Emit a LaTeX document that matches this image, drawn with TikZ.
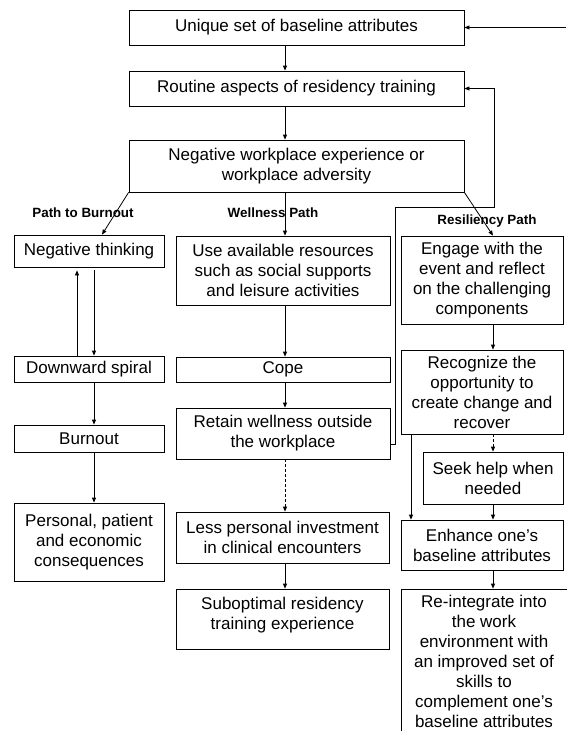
\documentclass[tikz,border=0pt]{standalone}
\usepackage{fontspec}
\setmainfont{Liberation Sans}
\usetikzlibrary{arrows.meta,calc}
\begin{document}
\begin{tikzpicture}[x=1pt,y=-1pt,
  box/.style={draw, line width=0.8pt, align=center, inner sep=0pt, font=\fontsize{17}{20}\selectfont},
  arr/.style={line width=0.8pt, -{Triangle[length=5pt,width=4pt]}},
  dsh/.style={arr, dash pattern=on 3pt off 2pt},
  lbl/.style={font=\bfseries\fontsize{13.4}{15}\selectfont, inner sep=0pt}]
\useasboundingbox (0,0) rectangle (566,731);
% top column
\node[box, minimum width=335pt, minimum height=35pt] (b1) at (296.5,27.5) {Unique set of baseline attributes};
\node[box, minimum width=335pt, minimum height=35pt] (b2) at (296.5,88.5) {Routine aspects of residency training};
\node[box, minimum width=335pt, minimum height=52pt] (b3) at (296.5,166) {Negative workplace experience or\\workplace adversity};
% labels
\node[lbl] (lb1) at (83,213) {Path to Burnout};
\node[lbl] (lb2) at (273,213) {Wellness Path};
\node[lbl] (lb3) at (487,221) {Resiliency Path};
% left column
\node[box, minimum width=150pt, minimum height=32pt] (nt) at (89,251) {Negative thinking};
\node[box, minimum width=150pt, minimum height=26pt] (ds) at (89,369) {Downward spiral};
\node[box, minimum width=150pt, minimum height=27pt] (bo) at (89,438.5) {Burnout};
\node[box, minimum width=150pt, minimum height=78pt] (pc) at (89,542) {Personal, patient\\and economic\\consequences};
% middle column
\node[box, minimum width=214pt, minimum height=69pt] (ua) at (283,270.5) {Use available resources\\such as social supports\\and leisure activities};
\node[box, minimum width=214pt, minimum height=25pt] (co) at (283,369.5) {Cope};
\node[box, minimum width=214pt, minimum height=51pt] (rw) at (283,433.5) {Retain wellness outside\\the workplace};
\node[box, minimum width=213pt, minimum height=51pt] (lp) at (282.5,537.5) {Less personal investment\\in clinical encounters};
\node[box, minimum width=213pt, minimum height=60pt] (so) at (282.5,619) {Suboptimal residency\\training experience\\[-8pt]\mbox{}};
% right column
\node[box, minimum width=162pt, minimum height=88pt] (en) at (482,280) {Engage with the\\event and reflect\\on the challenging\\components};
\node[box, minimum width=162pt, minimum height=84pt] (rc) at (482,392) {Recognize the\\opportunity to\\create change and\\recover};
\node[box, minimum width=140pt, minimum height=52pt] (sh) at (493,478) {Seek help when\\needed};
\node[box, minimum width=162pt, minimum height=50pt] (eh) at (482,545) {Enhance one’s\\baseline attributes};
\node[box, minimum width=166pt, minimum height=144pt] (ri) at (484,661) {Re-integrate into\\the work\\environment with\\an improved set of\\skills to\\complement one’s\\baseline attributes};
% column coordinates
\coordinate (cL) at (94,0);
\coordinate (cLu) at (77,0);
\coordinate (cM) at (285,0);
\coordinate (cR) at (493,0);
\coordinate (cRl) at (411,0);
% top arrows
\draw[arr] (b1.south -| cM) -- (b2.north -| cM);
\draw[arr] (b2.south -| cM) -- (b3.north -| cM);
\draw[arr] (b3.south -| cM) -- (ua.north -| cM);
\draw[arr] (b3.south west) -- ([xshift=13pt]nt.north);
\draw[arr] (b3.south east) -- ([xshift=11pt]en.north);
% left
\draw[arr, shorten >=3pt] (ds.north -| cLu) -- (nt.south -| cLu);
\draw[arr, shorten <=3pt] (nt.south -| cL) -- (ds.north -| cL);
\draw[arr] (ds.south -| cL) -- (bo.north -| cL);
\draw[arr] (bo.south -| cL) -- (pc.north -| cL);
% middle
\draw[arr] (ua.south -| cM) -- (co.north -| cM);
\draw[arr] (co.south -| cM) -- (rw.north -| cM);
\draw[dsh] (rw.south -| cM) -- (lp.north -| cM);
\draw[arr] (lp.south -| cM) -- (so.north -| cM);
% right
\draw[arr] (en.south -| cR) -- (rc.north -| cR);
\draw[dsh] (rc.south -| cR) -- (sh.north -| cR);
\draw[arr] (rc.south -| cRl) -- (eh.north -| cRl);
\draw[arr] (sh.south -| cR) -- (eh.north -| cR);
\draw[arr] (eh.south -| cR) -- (ri.north -| cR);
% feedback loops
\coordinate (fbA) at (395.5,444);
\coordinate (fbB) at (494,207.5);
\draw[arr] (rw.east |- fbA) -- (fbA) -- (fbA |- fbB) -- (fbB) -- (fbB |- b2.east) -- (b2.east);
\coordinate (fbT) at (566,27.5);
\draw[arr] (fbT) -- (b1.east);
\end{tikzpicture}
\end{document}
